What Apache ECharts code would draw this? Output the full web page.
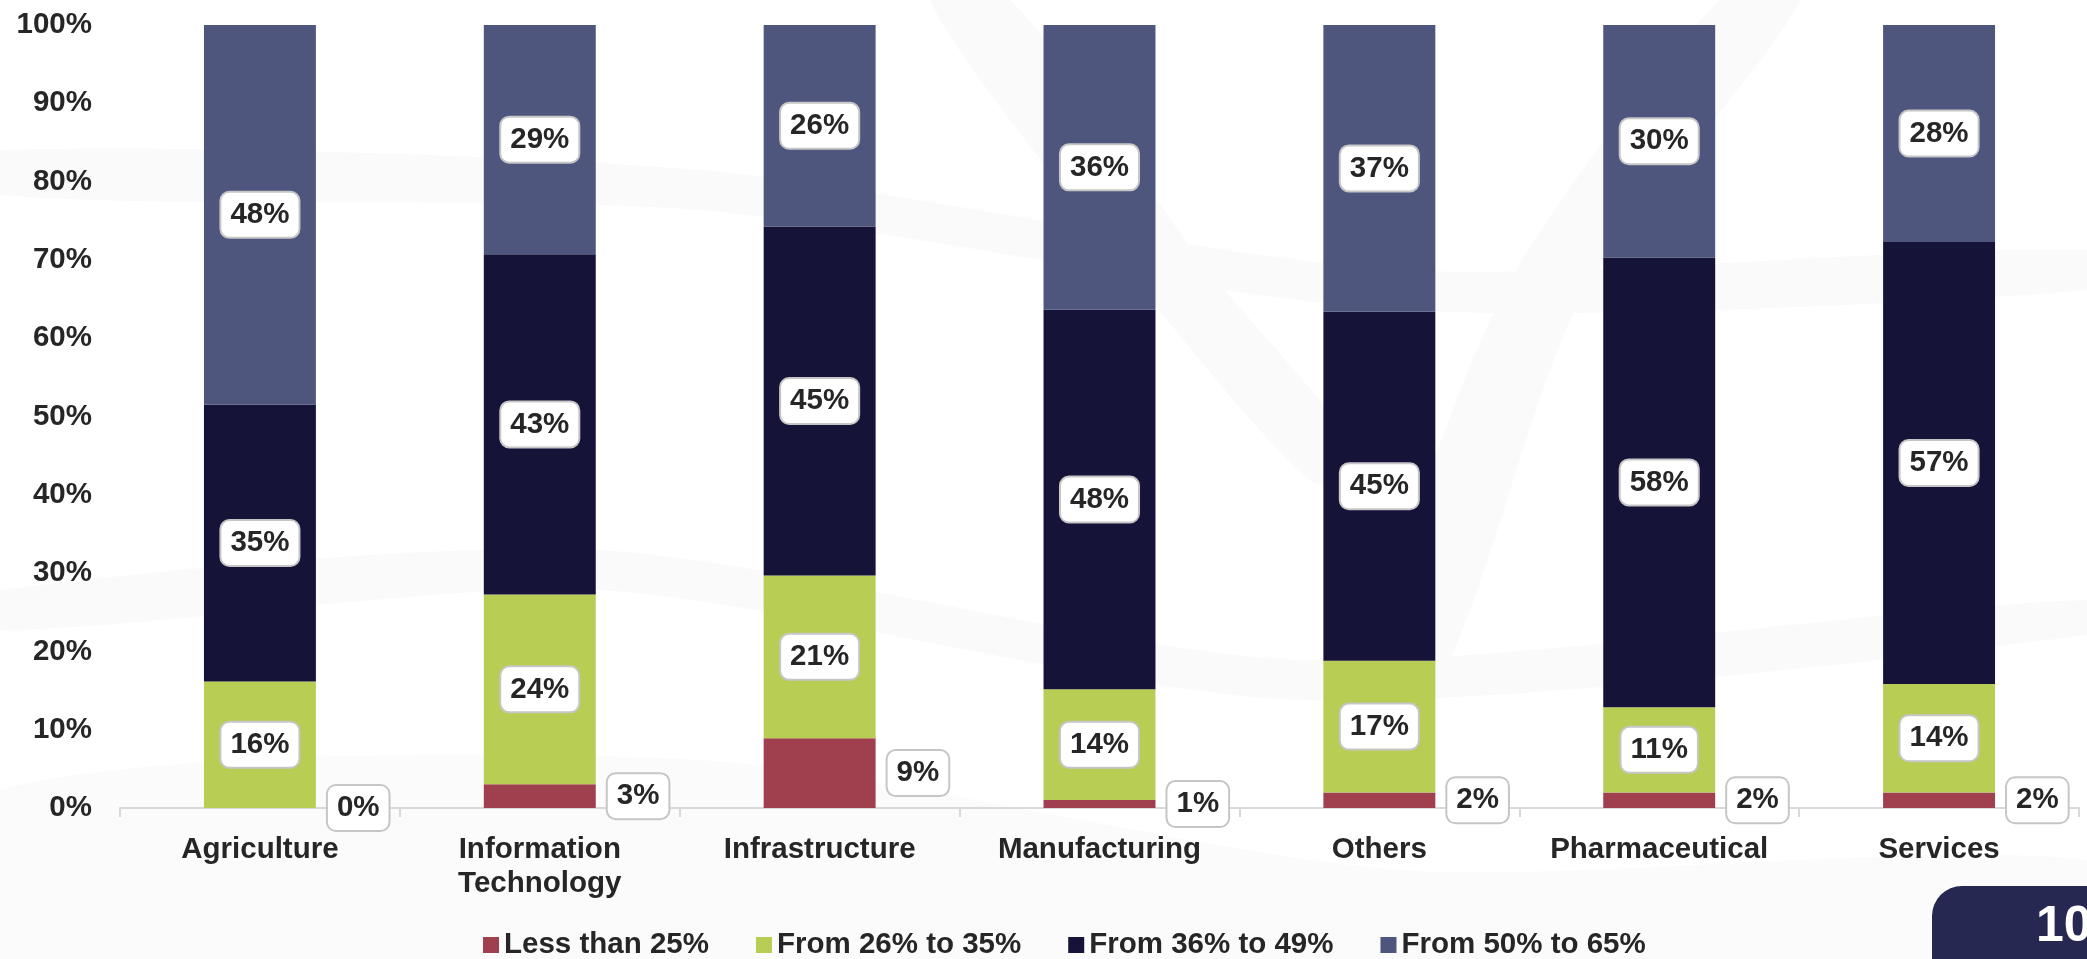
<!DOCTYPE html>
<html>
<head>
<meta charset="utf-8">
<title>Share of companies by sector</title>
<script src="https://cdn.jsdelivr.net/npm/echarts@6/dist/echarts.min.js"></script>
<style>
  html, body { margin: 0; padding: 0; background: #ffffff; }
  #chart { width: 2087px; height: 959px; }
</style>
</head>
<body>
<div id="chart"></div>
<script>
// Sectors along the x axis
const categories = ['Agriculture', 'Information\nTechnology', 'Infrastructure', 'Manufacturing', 'Others', 'Pharmaceutical', 'Services'];

// Share (%) per bucket, as printed on each segment
const lessThan25 = [0, 3, 9, 1, 2, 2, 2];
const from26to35 = [16, 24, 21, 14, 17, 11, 14];
const from36to49 = [35, 43, 45, 48, 45, 58, 57];
const from50to65 = [48, 29, 26, 36, 37, 30, 28];

const seriesNames = ['Less than 25%', 'From 26% to 35%', 'From 36% to 49%', 'From 50% to 65%'];
const yTicks = [0, 10, 20, 30, 40, 50, 60, 70, 80, 90, 100];

const palette = ['#a0404e', '#b8cd54', '#161339', '#4e567e'];
const textDark = '#262626';
const FONT = '"Liberation Sans", Arial, sans-serif';
const FS = 29.5;

const buckets = [lessThan25, from26to35, from36to49, from50to65];

// Each column is drawn as a 100% stack: a segment's height is its share of the column total
const totals = categories.map((_, i) => buckets.reduce((s, arr) => s + arr[i], 0));
const normalise = arr => arr.map((v, i) => v / totals[i] * 100);

const labelBox = {
  show: true,
  color: textDark,
  fontFamily: FONT,
  fontWeight: 'bold',
  fontSize: FS,
  lineHeight: 30,
  backgroundColor: '#ffffff',
  borderColor: '#c6c6c6',
  borderWidth: 2,
  borderRadius: 8,
  padding: [7, 9]
};

const series = buckets.map((arr, k) => ({
  name: seriesNames[k],
  type: 'bar',
  stack: 'share',
  barWidth: '40%',
  data: normalise(arr),
  itemStyle: { color: palette[k] },
  label: Object.assign({}, labelBox, k === 0
    ? { position: 'right', distance: 12, offset: [0, -12] }
    : { position: 'inside' }, {
    formatter: p => arr[p.dataIndex] + '%'
  }),
  labelLayout: { hideOverlap: false },
  emphasis: { disabled: true },
  z: 2
}));

// Faint grey swooshes in the page background
const swoosh = (points, fill) => ({
  type: 'polygon',
  silent: true,
  z: -10,
  shape: { points: points, smooth: 0.25 },
  style: { fill: fill }
});

const chart = echarts.init(document.getElementById('chart'), null, { renderer: 'canvas' });
chart.setOption({
  backgroundColor: '#ffffff',
  animation: false,
  textStyle: { fontFamily: FONT },
  grid: { left: 120, right: 8, top: 25, bottom: 151, containLabel: false },
  legend: {
    data: seriesNames,
    left: 478,
    top: 925,
    icon: 'rect',
    itemWidth: 16,
    itemHeight: 16,
    itemGap: 47,
    textStyle: {
      color: textDark,
      fontFamily: FONT,
      fontWeight: 'bold',
      fontSize: FS
    },
    selectedMode: false
  },
  xAxis: {
    type: 'category',
    data: categories,
    axisLine: { show: true, lineStyle: { color: '#d9d9d9', width: 2 } },
    axisTick: { show: true, alignWithLabel: false, length: 9, lineStyle: { color: '#d9d9d9', width: 2 } },
    axisLabel: {
      color: textDark,
      fontFamily: FONT,
      fontWeight: 'bold',
      fontSize: FS,
      lineHeight: 34,
      margin: 25,
      interval: 0
    }
  },
  yAxis: {
    type: 'value',
    min: yTicks[0],
    max: yTicks[yTicks.length - 1],
    interval: yTicks[1] - yTicks[0],
    splitLine: { show: false },
    axisLine: { show: false },
    axisTick: { show: false },
    axisLabel: {
      color: textDark,
      fontFamily: FONT,
      fontWeight: 'bold',
      fontSize: FS,
      margin: 28,
      formatter: v => v + '%'
    }
  },
  series: series,
  graphic: [
    swoosh([[0, 150], [700, 170], [1400, 270], [2087, 250], [2087, 290], [1400, 310], [700, 210], [0, 195]], '#fafafb'),
    swoosh([[0, 590], [600, 550], [1300, 660], [2087, 600], [2087, 635], [1300, 700], [600, 590], [0, 630]], '#fafafb'),
    swoosh([[0, 790], [700, 760], [1400, 870], [2087, 860], [2087, 959], [0, 959]], '#fbfbfc'),
    swoosh([[930, 0], [1010, 0], [1200, 260], [1380, 480], [1310, 480], [1120, 260]], '#fafafb'),
    swoosh([[1720, 0], [1800, 0], [1580, 300], [1440, 680], [1370, 680], [1500, 300]], '#fafafb'),
    {
      type: 'rect',
      silent: true,
      z: 10,
      shape: { x: 1932, y: 886, width: 200, height: 120, r: 30 },
      style: { fill: '#262852' }
    },
    {
      type: 'text',
      silent: true,
      z: 11,
      left: 2036,
      top: 902,
      style: {
        text: '10',
        fill: '#ffffff',
        font: 'bold 50px "Liberation Sans", Arial, sans-serif'
      }
    }
  ]
});
</script>
</body>
</html>
